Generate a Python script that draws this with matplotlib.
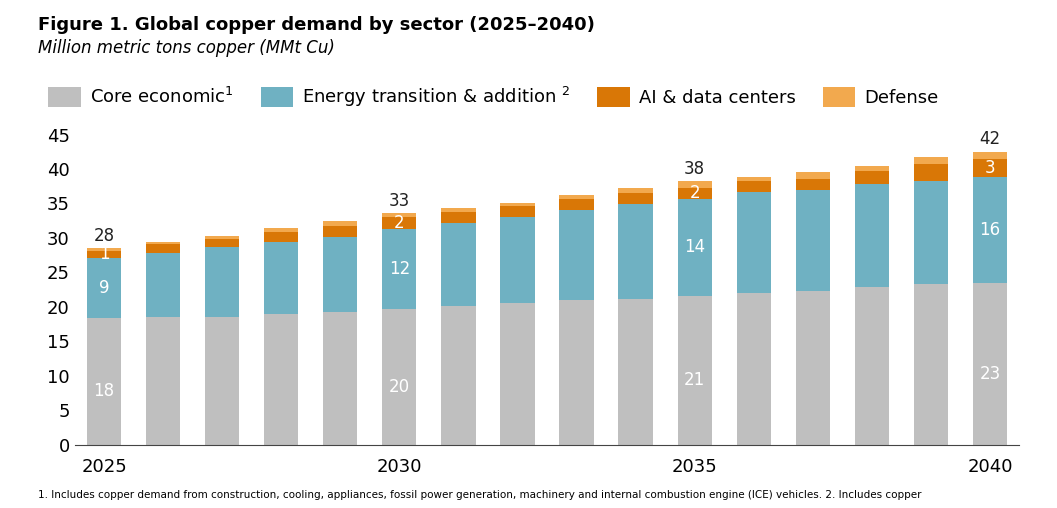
import matplotlib.pyplot as plt
import numpy as np

years = list(range(2025, 2041))
core = [18.4,18.5,18.5,19.0,19.2,19.7,20.1,20.5,21.0,21.1,21.6,22.0,22.3,22.9,23.3,23.4]
energy_top = [27.1,27.8,28.7,29.4,30.2,31.3,32.1,33.0,34.0,34.9,35.7,36.6,37.0,37.8,38.3,38.9]
ai_top = [28.1,29.1,29.8,30.8,31.7,33.0,33.7,34.7,35.6,36.5,37.2,38.2,38.5,39.7,40.7,41.5]
def_top = [28.5,29.4,30.3,31.4,32.4,33.6,34.3,35.1,36.3,37.2,38.2,38.9,39.5,40.5,41.7,42.5]
energy = [e-c for e,c in zip(energy_top, core)]
ai = [a-e for a,e in zip(ai_top, energy_top)]
defense = [d-a for d,a in zip(def_top, ai_top)]
labeled = {2025:("18","9","1","28"),2030:("20","12","2","33"),2035:("21","14","2","38"),2040:("23","16","3","42")}
colors = ["#bfbfbf","#6fb1c2","#d97706","#f2a94e"]
names = ["Core economic$^{1}$","Energy transition & addition $^{2}$","AI & data centers","Defense"]

fig = plt.figure(figsize=(10.57,5.08), dpi=100)
ax = fig.add_axes([0.0705,0.125,0.894,0.61])
x = np.array(years)
w = 0.58
ax.bar(x, core, w, color=colors[0], label=names[0])
ax.bar(x, energy, w, bottom=core, color=colors[1], label=names[1])
ax.bar(x, ai, w, bottom=energy_top, color=colors[2], label=names[2])
ax.bar(x, defense, w, bottom=ai_top, color=colors[3], label=names[3])
for i,y in enumerate(years):
    if y in labeled:
        c,e,a,t = labeled[y]
        kw = dict(ha='center', va='center', color='white', fontsize=12)
        ax.text(y, core[i]/2-1.5, c, **kw)
        ax.text(y, core[i]+energy[i]/2, e, **kw)
        ax.text(y, energy_top[i]+ai[i]/2, a, **kw)
        ax.text(y, def_top[i]+0.5, t, ha='center', va='bottom', fontsize=12, color='#222')
ax.set_ylim(0,45)
ax.set_xlim(2024.5,2040.5)
ax.set_yticks(range(0,46,5))
ax.set_xticks([2025,2030,2035,2040])
ax.tick_params(length=0, labelsize=13)
ax.tick_params(axis='x', pad=10)
for s in ['top','right','left']:
    ax.spines[s].set_visible(False)
ax.spines['bottom'].set_color('#444')
ax.legend(loc='lower left', bbox_to_anchor=(-0.045,1.03), ncol=4, frameon=False, fontsize=13,
          handlelength=1.8, handleheight=1.3, columnspacing=1.5, handletextpad=0.5)
fig.text(0.036,0.94,"Figure 1. Global copper demand by sector (2025\u20132040)", fontsize=13, fontweight='bold')
fig.text(0.036,0.895,"Million metric tons copper (MMt Cu)", fontsize=12, style='italic')
fig.text(0.036,0.02,"1. Includes copper demand from construction, cooling, appliances, fossil power generation, machinery and internal combustion engine (ICE) vehicles. 2. Includes copper", fontsize=7.5)
fig.savefig("out.png", dpi=100, facecolor='white')
